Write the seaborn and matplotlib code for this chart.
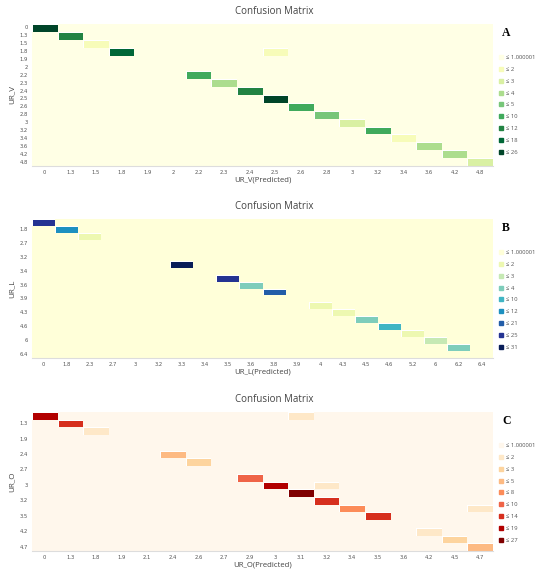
import numpy as np
import pandas as pd
import seaborn as sns
import matplotlib.pyplot as plt
from matplotlib.colors import ListedColormap
from matplotlib.lines import Line2D

# ---------------- data ----------------
# class labels (same list for actual and predicted axis)
labels_v = ["0", "1.3", "1.5", "1.8", "1.9", "2", "2.2", "2.3", "2.4", "2.5",
            "2.6", "2.8", "3", "3.2", "3.4", "3.6", "4.2", "4.8"]
labels_l = ["0", "1.8", "2.3", "2.7", "3", "3.2", "3.3", "3.4", "3.5", "3.6",
            "3.8", "3.9", "4", "4.3", "4.5", "4.6", "5.2", "6", "6.2", "6.4"]
labels_o = ["0", "1.3", "1.8", "1.9", "2.1", "2.4", "2.6", "2.7", "2.9", "3",
            "3.1", "3.2", "3.4", "3.5", "3.6", "4.2", "4.5", "4.7"]

# non-zero cells: actual, predicted, count
v_true = ["0", "1.3", "1.5", "1.8", "1.8", "2.2", "2.3", "2.4", "2.5", "2.6",
          "2.8", "3", "3.2", "3.4", "3.6", "4.2", "4.8"]
v_pred = ["0", "1.3", "1.5", "1.8", "2.5", "2.2", "2.3", "2.4", "2.5", "2.6",
          "2.8", "3", "3.2", "3.4", "3.6", "4.2", "4.8"]
v_count = [26, 12, 2, 18, 2, 10, 4, 12, 26, 10, 5, 3, 10, 2, 4, 4, 3]

l_true = ["0", "1.8", "2.3", "3.3", "3.5", "3.6", "3.8", "4", "4.3", "4.5",
          "4.6", "5.2", "6", "6.2"]
l_pred = ["0", "1.8", "2.3", "3.3", "3.5", "3.6", "3.8", "4", "4.3", "4.5",
          "4.6", "5.2", "6", "6.2"]
l_count = [25, 12, 2, 31, 25, 4, 21, 2, 2, 4, 10, 2, 3, 4]

o_true = ["0", "0", "1.3", "1.8", "2.4", "2.6", "2.9", "3", "3", "3.1",
          "3.2", "3.4", "3.4", "3.5", "4.2", "4.5", "4.7"]
o_pred = ["0", "3.1", "1.3", "1.8", "2.4", "2.6", "2.9", "3", "3.2", "3.1",
          "3.2", "3.4", "4.7", "3.5", "4.2", "4.5", "4.7"]
o_count = [19, 2, 14, 2, 5, 3, 10, 19, 2, 27, 14, 8, 2, 14, 2, 3, 5]

# legend bins (upper bounds)
th_v = [1.000001, 2, 3, 4, 5, 10, 12, 18, 26]
th_l = [1.000001, 2, 3, 4, 10, 12, 21, 25, 31]
th_o = [1.000001, 2, 3, 5, 8, 10, 14, 19, 27]

# ---------------- plot ----------------
sns.set_theme(style="white")
plt.rcParams["font.family"] = ["Open Sans", "DejaVu Sans"]

W, H = 550, 578
fig = plt.figure(figsize=(W / 100, H / 100), dpi=100)

panels = [
    # labels, true, pred, count, thresholds, cmap, name, letter, (left, top, right, bottom) px, every-other y labels
    (labels_v, v_true, v_pred, v_count, th_v, "YlGn", "UR_V", "A", (32, 24, 493, 166), False),
    (labels_l, l_true, l_pred, l_count, th_l, "YlGnBu", "UR_L", "B", (32, 219, 493, 358), True),
    (labels_o, o_true, o_pred, o_count, th_o, "OrRd", "UR_O", "C", (32, 412, 493, 551), True),
]

for labels, yt, yp, cnt, th, cmap_name, name, letter, box, skip in panels:
    left, top, right, bottom = box
    ax = fig.add_axes([left / W, 1 - bottom / H, (right - left) / W, (bottom - top) / H])

    cm = pd.DataFrame(0, index=labels, columns=labels, dtype=float)
    for t, p, c in zip(yt, yp, cnt):
        cm.loc[t, p] = c
    # bin index of each cell in the discrete legend scale
    bins = pd.DataFrame(np.searchsorted(th, cm.values, side="left"), index=labels, columns=labels)

    colors = plt.get_cmap(cmap_name)(np.linspace(0, 1, 9))
    sns.heatmap(bins, cmap=ListedColormap(colors), vmin=-0.5, vmax=8.5, cbar=False,
                linewidths=0.6, linecolor="white", ax=ax,
                xticklabels=labels, yticklabels=labels)
    # white border only around the non-empty cells
    mesh = ax.collections[0]
    filled = (cm.values > 0).ravel()
    edges = np.zeros((filled.size, 4))
    edges[filled] = [1, 1, 1, 1]
    mesh.set_edgecolors(edges)

    if skip:
        pos = np.arange(1, len(labels), 2)
        ax.set_yticks(pos + 0.5)
        ax.set_yticklabels([labels[i] for i in pos])

    ax.tick_params(length=0, labelsize=3.8, colors="#555", pad=3)
    plt.setp(ax.get_xticklabels(), rotation=0, family="DejaVu Sans")
    plt.setp(ax.get_yticklabels(), rotation=0, family="DejaVu Sans")
    ax.spines["bottom"].set_visible(True)
    ax.spines["bottom"].set_color("#dddddd")
    ax.spines["bottom"].set_linewidth(0.8)

    # title is centred on the whole figure, not on the plot area
    ax.set_title("Confusion Matrix", fontsize=7, color="#444", pad=7,
                 x=(274 - left) / (right - left))
    ax.set_xlabel(name + "(Predicted)", fontsize=5.6, color="#444", labelpad=1)
    ax.set_ylabel(name, fontsize=5.8, color="#444", labelpad=3)

    fig.text(502 / W, 1 - (top + 9) / H, letter, fontsize=8.5, fontweight="bold",
             family="Liberation Serif", va="center", ha="left", color="black")

    handles = [Line2D([], [], marker="s", linestyle="", markersize=3.5,
                      markerfacecolor=colors[i], markeredgecolor=colors[i],
                      label="\u2264 " + (f"{v:g}" if v != 1.000001 else "1.000001"))
               for i, v in enumerate(th)]
    fig.legend(handles=handles, loc="upper left", bbox_to_anchor=(496 / W, 1 - (top + 28) / H),
               frameon=False, fontsize=4.2, handlelength=0.8, handletextpad=0.4,
               labelspacing=1.16, borderpad=0, labelcolor="#555")

fig.savefig("out.png", dpi=100)
